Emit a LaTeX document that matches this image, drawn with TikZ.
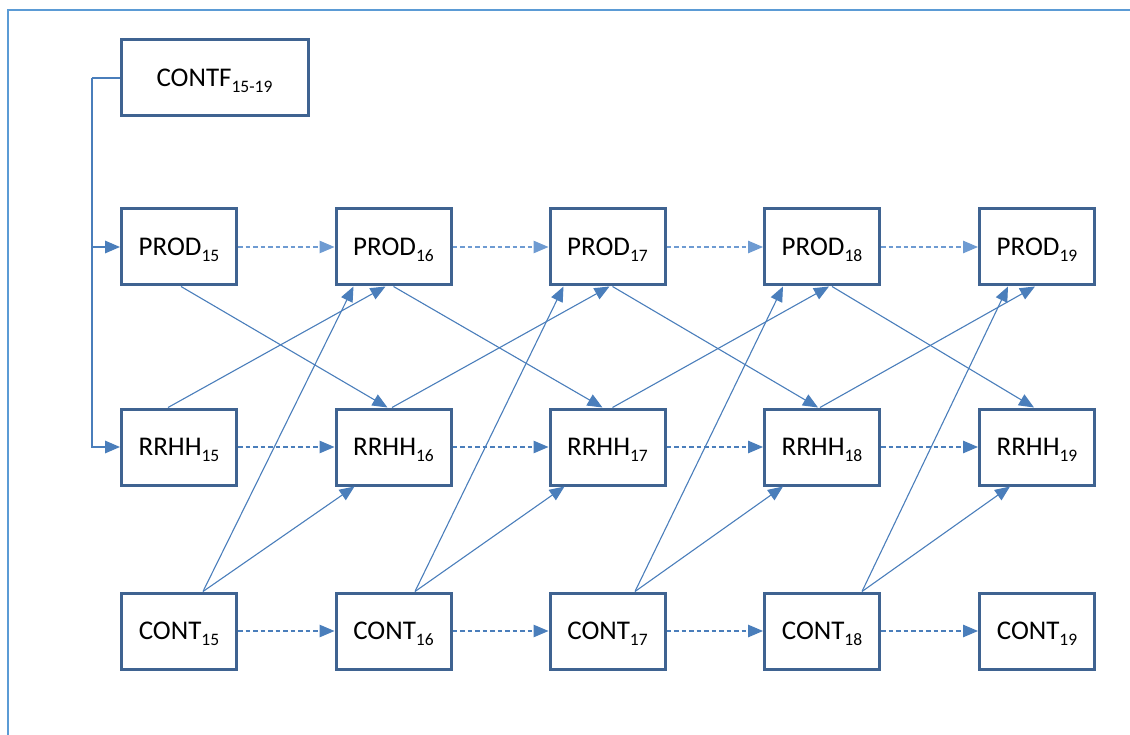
\documentclass[tikz,border=0pt]{standalone}
\usepackage{fontspec}
\setmainfont{Carlito}
\usetikzlibrary{arrows.meta}
\definecolor{boxline}{HTML}{3F6391}
\definecolor{arr}{HTML}{4A7EBB}
\definecolor{arrlight}{HTML}{6E9BD2}
\definecolor{framecol}{HTML}{5B9BD5}
\newcommand\sbs[1]{\raisebox{-6pt}{\fontsize{17.5}{17.5}\selectfont #1}}
\begin{document}
\begin{tikzpicture}[x=1pt,y=-1pt,
  box/.style={draw=boxline, line width=3pt, fill=white, minimum width=115pt,
    minimum height=76pt, inner sep=0pt, font=\fontsize{27}{31}\selectfont,
    text height=17pt, text depth=0pt},
  link/.style={draw=arr, line width=1.1pt, -{Triangle[length=15pt,width=12.5pt]}},
  dlink/.style={link, line width=1.05pt, dash pattern=on 4.5pt off 3pt},
  dlinklight/.style={dlink, draw=arrlight},
  feed/.style={draw=arr, line width=1.6pt, -{Triangle[length=15pt,width=12.5pt]}}
]
\useasboundingbox (0,0) rectangle (1130,735);
\draw[framecol, line width=2pt] (7.5,735) -- (7.5,10.5) -- (1130,10.5);

\node[box, minimum width=187pt] (cf) at (214.5,78) {CONTF\sbs{15-19}};
\foreach \n/\x in {15/179,16/393.5,17/607.5,18/822,19/1037} {
  \node[box] (p\n) at (\x,247) {PROD\sbs{\n}};
  \node[box] (r\n) at (\x,447) {RRHH\sbs{\n}};
  \node[box] (c\n) at (\x,631) {CONT\sbs{\n}};
}

% feed from CONTF
\coordinate (j) at (92,78);
\draw[feed, -] (cf.west) -- (j);
\draw[feed] (j) |- (p15.west);
\draw[feed] (j) |- (r15.west);

% dashed horizontal
\foreach \a/\b in {15/16,16/17,17/18,18/19} {
  \draw[dlinklight] (p\a) -- (p\b);
  \draw[dlink] (r\a) -- (r\b);
  \draw[dlink] (c\a) -- (c\b);
}

% diagonals: PROD_i -> RRHH_{i+1}
\draw[link] ([xshift=2pt]p15.south) -- ([xshift=-6pt]r16.north);
\draw[link] ([xshift=0pt]p16.south) -- ([xshift=-5pt]r17.north);
\draw[link] ([xshift=5pt]p17.south) -- ([xshift=-4pt]r18.north);
\draw[link] ([xshift=10pt]p18.south) -- ([xshift=-3pt]r19.north);
% RRHH_i -> PROD_{i+1}
\draw[link] ([xshift=-11pt]r15.north) -- ([xshift=-8pt]p16.south);
\draw[link] ([xshift=-1.5pt]r16.north) -- ([xshift=2pt]p17.south);
\draw[link] ([xshift=5pt]r17.north) -- ([xshift=7pt]p18.south);
\draw[link] ([xshift=-2pt]r18.north) -- ([xshift=-2pt]p19.south);
% CONT_i -> PROD_{i+1}, RRHH_{i+1}
\draw[link] ([xshift=24pt]c15.north) -- ([xshift=-40pt]p16.south);
\draw[link] ([xshift=24pt]c15.north) -- ([xshift=-39pt]r16.south);
\draw[link] ([xshift=21.5pt]c16.north) -- ([xshift=-44pt]p17.south);
\draw[link] ([xshift=21.5pt]c16.north) -- ([xshift=-43pt]r17.south);
\draw[link] ([xshift=27.5pt]c17.north) -- ([xshift=-39pt]p18.south);
\draw[link] ([xshift=27.5pt]c17.north) -- ([xshift=-39pt]r18.south);
\draw[link] ([xshift=40pt]c18.north) -- ([xshift=-29pt]p19.south);
\draw[link] ([xshift=40pt]c18.north) -- ([xshift=-27pt]r19.south);
\end{tikzpicture}
\end{document}
